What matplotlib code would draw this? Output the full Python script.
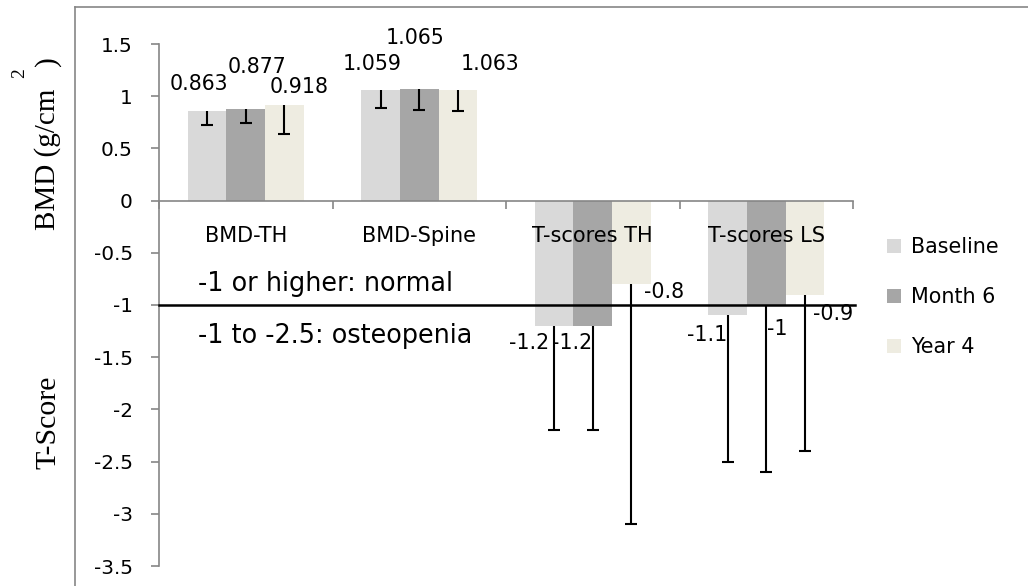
import matplotlib
matplotlib.use("Agg")
import matplotlib.pyplot as plt
import numpy as np
from matplotlib.lines import Line2D
from matplotlib.patches import Patch

categories = ["BMD-TH", "BMD-Spine", "T-scores TH", "T-scores LS"]
series_names = ["Baseline", "Month 6", "Year 4"]
baseline = [0.863, 1.059, -1.2, -1.1]
month6 = [0.877, 1.065, -1.2, -1.0]
year4 = [0.918, 1.063, -0.8, -0.9]
baseline_err = [0.135, 0.175, 1.0, 1.4]
month6_err = [0.133, 0.193, 1.0, 1.6]
year4_err = [0.276, 0.20, 2.3, 1.5]
label_texts = [["0.863", "1.059", "-1.2", "-1.1"],
               ["0.877", "1.065", "-1.2", "-1"],
               ["0.918", "1.063", "-0.8", "-0.9"]]
yticks = [1.5, 1.0, 0.5, 0.0, -0.5, -1.0, -1.5, -2.0, -2.5, -3.0, -3.5]
ytick_labels = ["1.5", "1", "0.5", "0", "-0.5", "-1", "-1.5", "-2", "-2.5", "-3", "-3.5"]
threshold = -1.0

colors = ["#D9D9D9", "#A6A6A6", "#EEECE1"]
# label offsets in pixels (dx, dy up positive)
label_offsets = [
    [(-8, 27), (-8, 26), (-25, -17), (-21, -20)],
    [(11, 42), (-4, 51), (-21, -17), (11, -24)],
    [(15, 18), (32, 26), (33, -8), (28, -19)],
]

W, H = 1028, 586
fig = plt.figure(figsize=(W / 100, H / 100), dpi=100)
ax = fig.add_axes([159 / W, 1 - 566 / H, (853 - 159) / W, (566 - 44) / H])

font = "DejaVu Sans"
px = 0.72  # points per pixel
gray = "#868686"

x = np.arange(len(categories))
bw = 0.2225
vals = [baseline, month6, year4]
errs = [baseline_err, month6_err, year4_err]
for i in range(3):
    xs = x + (i - 1) * bw
    v = np.array(vals[i])
    e = np.array(errs[i])
    ax.bar(xs, v, width=bw, color=colors[i], zorder=1, label=series_names[i])
    ax.vlines(xs, v, v - e, color="black", lw=1.5, zorder=3)
    ax.plot(xs, v - e, ls="none", marker="_", ms=12 * px, mew=1.5, color="black", zorder=3)
    for j in range(len(x)):
        dx, dy = label_offsets[i][j]
        ax.annotate(label_texts[i][j], (xs[j], v[j]), xytext=(dx * px, dy * px),
                    textcoords="offset points", ha="center", va="center",
                    fontsize=14.8, family=font, zorder=5)

ax.axhline(threshold, xmin=0, xmax=1.003, color="black", lw=1.8, zorder=4, clip_on=False)

ax.set_xlim(-0.5, 3.5)
ax.set_ylim(-3.5, 1.5)
ax.set_yticks(yticks)
ax.set_yticklabels(ytick_labels, fontsize=14.4, family=font)
ax.tick_params(axis="y", direction="out", length=8 * px, color=gray, width=1.2, pad=13)

ax.spines["top"].set_visible(False)
ax.spines["right"].set_visible(False)
ax.spines["left"].set_color(gray)
ax.spines["left"].set_linewidth(1.2)
ax.spines["bottom"].set_position(("data", 0))
ax.spines["bottom"].set_color(gray)
ax.spines["bottom"].set_linewidth(1.2)
ax.set_xticks([-0.5, 0.5, 1.5, 2.5, 3.5])
ax.set_xticklabels([])
ax.tick_params(axis="x", direction="out", length=8 * px, color=gray, width=1.2)

for j, c in enumerate(categories):
    ax.annotate(c, (x[j], 0), xytext=(0, -35 * px), textcoords="offset points",
                ha="center", va="center", fontsize=15, family=font, zorder=6)

text_x = -0.5 + (198 - 159) / 173.5
ax.annotate("-1 or higher: normal", (text_x, threshold), xytext=(0, 21 * px),
            textcoords="offset points", ha="left", va="center",
            fontsize=18.4, family=font, zorder=6)
ax.annotate("-1 to -2.5: osteopenia", (text_x, threshold),
            xytext=(0, -31 * px), textcoords="offset points", ha="left", va="center",
            fontsize=18.4, family=font, zorder=6)

# y-axis titles
serif = "Liberation Serif"
fig.text(48 / W, 1 - 230 / H, "BMD (g/cm", rotation=90, ha="center", va="bottom",
         fontsize=21, family=serif)
fig.text(20 / W, 1 - 73 / H, "2", rotation=90, ha="center", va="center",
         fontsize=14, family=serif)
fig.text(48 / W, 1 - 61 / H, ")", rotation=90, ha="center", va="center",
         fontsize=21, family=serif)
fig.text(48 / W, 1 - 422 / H, "T-Score", rotation=90, ha="center", va="center",
         fontsize=21.5, family=serif)

# chart border
fig.add_artist(Line2D([75 / W, 75 / W], [0, 1 - 7 / H], color=gray, lw=1.2))
fig.add_artist(Line2D([75 / W, 1], [1 - 7 / H, 1 - 7 / H], color=gray, lw=1.2))

# legend
handles = [Patch(facecolor=colors[i], edgecolor="none") for i in range(3)]
leg = fig.legend(handles, series_names, loc="upper left",
                 bbox_to_anchor=(887 / W, 1 - 237 / H), frameon=False,
                 prop={"family": font, "size": 14.9}, handlelength=0.7, handleheight=0.7,
                 handletextpad=0.45, labelspacing=1.45, borderaxespad=0, borderpad=0)

fig.savefig("out.png", dpi=100)
